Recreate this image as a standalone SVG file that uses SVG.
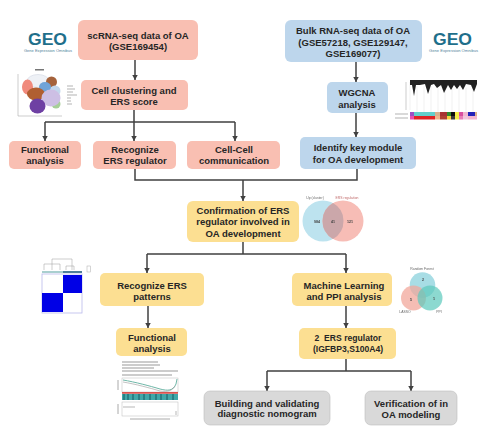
<svg xmlns="http://www.w3.org/2000/svg" width="490" height="437" viewBox="0 0 490 437">
<style>
.t{font-family:"Liberation Sans",Arial,sans-serif;font-weight:700;font-size:9.5px;fill:#262626;text-anchor:middle}
.pink{fill:#F9BFB2}.blue{fill:#BDD6EC}.yellow{fill:#FCDF92}.grey{fill:#D9D9D9;stroke:#BDBDBD;stroke-width:.6}
.c{fill:none;stroke:#404040;stroke-width:1.5}
.geo{font-family:"Liberation Sans",Arial,sans-serif;font-weight:700;font-size:17px;fill:#1F6F8B}
.geos{font-family:"Liberation Sans",Arial,sans-serif;font-size:3.2px;fill:#4F7F9A}
.tiny{font-family:"Liberation Sans",Arial,sans-serif;font-size:3.4px;fill:#666;text-anchor:middle}
.num{font-family:"Liberation Sans",Arial,sans-serif;font-weight:700;font-size:3.6px;fill:#444;text-anchor:middle}
.g{fill:none;stroke:#9A9A9A;stroke-width:.5}
.b{filter:url(#soft)}
</style>
<defs>
<marker id="a" markerUnits="userSpaceOnUse" markerWidth="7" markerHeight="7" refX="5.5" refY="3" orient="auto"><path d="M0 0L5.5 3L0 6Z" fill="#404040"/></marker>
<filter id="soft" x="-10%" y="-10%" width="120%" height="120%"><feGaussianBlur stdDeviation="0.45"/></filter>
</defs>
<rect width="490" height="437" fill="#fff"/>
<g id="connectors">
<path class="c" marker-end="url(#a)" d="M135 60V80"/>
<path class="c" d="M134 110V122M45 122H235"/>
<path class="c" marker-end="url(#a)" d="M45 122V141"/>
<path class="c" marker-end="url(#a)" d="M134 122V141"/>
<path class="c" marker-end="url(#a)" d="M235 122V141"/>
<path class="c" d="M135 169V180H357V169"/>
<path class="c" marker-end="url(#a)" d="M243 180V201"/>
<path class="c" marker-end="url(#a)" d="M356 62V82"/>
<path class="c" marker-end="url(#a)" d="M356 113V137"/>
<path class="c" d="M243 242V254M147 254H346"/>
<path class="c" marker-end="url(#a)" d="M147 254V273"/>
<path class="c" marker-end="url(#a)" d="M346 254V273"/>
<path class="c" marker-end="url(#a)" d="M148 306V328"/>
<path class="c" marker-end="url(#a)" d="M346 306V328"/>
<path class="c" d="M346 359V371M267 371H411"/>
<path class="c" marker-end="url(#a)" d="M267 371V391"/>
<path class="c" marker-end="url(#a)" d="M411 371V391"/>
</g>
<g id="n-scrna"><rect class="pink" x="78" y="20" width="120" height="40" rx="6"/><text class="t" x="138" y="38.500">scRNA-seq data of OA</text><text class="t" x="138" y="49.500">(GSE169454)</text></g>
<g id="n-cluster"><rect class="pink" x="81" y="80" width="107" height="30" rx="5"/><text class="t" x="134" y="93.500">Cell clustering and</text><text class="t" x="134" y="104.500">ERS score</text></g>
<g id="n-func1"><rect class="pink" x="9" y="141" width="72" height="28" rx="5"/><text class="t" x="45" y="153">Functional</text><text class="t" x="45" y="164">analysis</text></g>
<g id="n-regulator"><rect class="pink" x="93" y="141" width="83" height="28" rx="5"/><text class="t" x="135" y="153">Recognize</text><text class="t" x="135" y="164">ERS regulator</text></g>
<g id="n-comm"><rect class="pink" x="187" y="141" width="93" height="28" rx="5"/><text class="t" x="234" y="153">Cell-Cell</text><text class="t" x="234" y="164">communication</text></g>
<g id="n-bulk"><rect class="blue" x="285" y="20" width="137" height="42" rx="6"/><text class="t" x="353" y="33.500">Bulk RNA-seq data of OA</text><text class="t" x="353" y="45.500">(GSE57218, GSE129147,</text><text class="t" x="353" y="56.500">GSE169077)</text></g>
<g id="n-wgcna"><rect class="blue" x="327" y="82" width="61" height="31" rx="5"/><text class="t" x="357" y="96">WGCNA</text><text class="t" x="357" y="107.500">analysis</text></g>
<g id="n-module"><rect class="blue" x="300" y="137" width="116" height="32" rx="5"/><text class="t" x="358" y="150.500">Identify key module</text><text class="t" x="358" y="162.500">for OA development</text></g>
<g id="n-confirm"><rect class="yellow" x="187" y="201" width="112" height="41" rx="6"/><text class="t" x="243" y="213.500">Confirmation of ERS</text><text class="t" x="243" y="225">regulator involved in</text><text class="t" x="243" y="236.500">OA development</text></g>
<g id="n-patterns"><rect class="yellow" x="100" y="273" width="104" height="33" rx="5"/><text class="t" x="152" y="288.500">Recognize ERS</text><text class="t" x="152" y="299.500">patterns</text></g>
<g id="n-ml"><rect class="yellow" x="292" y="273" width="100" height="33" rx="5"/><text class="t" x="344" y="288.500">Machine Learning</text><text class="t" x="344" y="299.500">and PPI analysis</text></g>
<g id="n-func2"><rect class="yellow" x="116" y="328" width="71" height="28" rx="5"/><text class="t" x="152" y="340.500">Functional</text><text class="t" x="152" y="351.500">analysis</text></g>
<g id="n-two"><rect class="yellow" x="299" y="328" width="97" height="31" rx="5"/><text class="t" style="font-size:8.6px" x="348" y="341">2&#160;&#160;ERS regulator</text><text class="t" style="font-size:8.6px" x="348" y="351.500">(IGFBP3,S100A4)</text></g>
<g id="n-nomogram"><rect class="grey" x="204" y="391" width="126" height="34" rx="6"/><text class="t" x="267" y="406.500">Building and validating</text><text class="t" x="267" y="417">diagnostic nomogram</text></g>
<g id="n-model"><rect class="grey" x="365" y="391" width="92" height="34" rx="6"/><text class="t" x="411" y="406.500">Verification of in</text><text class="t" x="411" y="417.500">OA modeling</text></g>

<g id="geo-left"><text class="geo" x="28" y="44.500" textLength="39" lengthAdjust="spacingAndGlyphs">GEO</text><text class="geos" x="24" y="51.500" textLength="48" lengthAdjust="spacingAndGlyphs">Gene Expression Omnibus</text></g>
<g id="geo-right"><text class="geo" x="433" y="44.500" textLength="39" lengthAdjust="spacingAndGlyphs">GEO</text><text class="geos" x="429" y="51.500" textLength="49" lengthAdjust="spacingAndGlyphs">Gene Expression Omnibus</text></g>

<g id="umap" class="b">
<path class="g" d="M18 74V116H62"/>
<ellipse cx="38" cy="81" rx="11" ry="6.500" fill="#eef1f6" stroke="#c8cfdc" stroke-width=".5"/>
<ellipse cx="27.500" cy="87" rx="5.500" ry="7.500" fill="#F08A7C"/>
<ellipse cx="51.500" cy="82" rx="5.500" ry="5.500" fill="#A5623A"/>
<ellipse cx="55" cy="91" rx="5.500" ry="5.500" fill="#C3D7EC"/>
<ellipse cx="45" cy="87" rx="6" ry="5" fill="#6FA4D8"/>
<ellipse cx="36" cy="94" rx="9" ry="6.500" fill="#B05F30"/>
<ellipse cx="56" cy="104" rx="4.500" ry="4.500" fill="#A6CF98"/>
<ellipse cx="51" cy="98" rx="9.500" ry="8.500" fill="#CDBFE4"/>
<ellipse cx="37.500" cy="106" rx="8" ry="7.500" fill="#6E3FA3"/>
<path d="M67 86h6M67 89h8M67 92h6M67 95h10M67 98h4M67 101h4M67 104h5" stroke="#aaa" stroke-width=".9"/>
<rect x="35" y="69" width="9" height="1.500" fill="#777"/>
</g>

<g id="wgcna-plot" class="b">
<path d="M410 82V110M417 86V112M424 86V112M431 86V112M438 86V112M445 86V112M452 88V112M459 88V112M466 88V112M473 88V112" stroke="#e2e2e2" stroke-width=".5"/>
<path d="M410 80H477V84L474 92L471 85L466 84L463 90L460 85L457 89L454 85L451 90L448 85L444 93L441 85L437 88L434 84L431 85L428 94L425 84L420 85L416 85L414 96L412 85L410 85Z" fill="#222"/>
<path class="g" d="M406 82V110"/>
<rect x="410" y="112" width="4" height="4" fill="#9C4FC4"/><rect x="414" y="112" width="21" height="4" fill="#62CFCB"/><rect x="435" y="112" width="5" height="4" fill="#D9B08C"/><rect x="440" y="112" width="7" height="4" fill="#A83232"/><rect x="447" y="112" width="4" height="4" fill="#2E8B2E"/><rect x="451" y="112" width="4" height="4" fill="#111"/><rect x="455" y="112" width="4" height="4" fill="#F5F04A"/><rect x="459" y="112" width="4" height="4" fill="#D94FA0"/><rect x="463" y="112" width="5" height="4" fill="#F2B6D0"/><rect x="468" y="112" width="7" height="4" fill="#2222B8"/><rect x="475" y="112" width="2" height="4" fill="#D9B08C"/>
<rect x="410" y="116" width="4" height="3.500" fill="#E84DB0"/><rect x="414" y="116" width="21" height="3.500" fill="#E02020"/><rect x="435" y="116" width="5" height="3.500" fill="#F0B48C"/><rect x="440" y="116" width="7" height="3.500" fill="#B04030"/><rect x="447" y="116" width="4" height="3.500" fill="#F5D040"/><rect x="451" y="116" width="4" height="3.500" fill="#3A3A3A"/><rect x="455" y="116" width="4" height="3.500" fill="#F5F04A"/><rect x="459" y="116" width="4" height="3.500" fill="#E87FB8"/><rect x="463" y="116" width="5" height="3.500" fill="#F2C6DC"/><rect x="468" y="116" width="9" height="3.500" fill="#F2B6D0"/>
<path d="M395 114h13M395 118h13" stroke="#aaa" stroke-width=".9"/>
</g>

<g id="venn2" class="b">
<circle cx="323" cy="221" r="20.500" fill="#BDE3EF"/>
<circle cx="343" cy="221" r="20.500" fill="#F7BDB6"/>
<path d="M333 203.100A20.500 20.500 0 0 1 333 238.900A20.500 20.500 0 0 1 333 203.100Z" fill="#CBA7AA"/>
<text class="tiny" x="315" y="199">Up (cluster)</text><text class="tiny" x="347" y="199" style="fill:#C06A6A">ERS regulation</text>
<text class="num" x="317" y="222.500">984</text><text class="num" x="333" y="222.500">41</text><text class="num" x="350" y="222.500">121</text>
</g>

<g id="heatmap" class="b">
<path class="g" d="M52 270V259H72V270M44 270V264M60 270V264H44M66 270V266H74M74 270V266"/>
<rect x="42" y="271" width="21" height="2" fill="#A9CFCF"/><rect x="63" y="271" width="19" height="2" fill="#4F7F9A"/>
<rect x="42" y="274" width="40" height="39" fill="#fff" stroke="#B9B9EC" stroke-width=".8"/>
<rect x="63" y="275" width="19" height="18" fill="#0000E6"/>
<rect x="42" y="293" width="21" height="19" fill="#0000E6"/>
<rect x="87" y="266" width="3.500" height="6" fill="#fff" stroke="#aaa" stroke-width=".5"/>
</g>

<g id="venn3" class="b">
<circle cx="422.500" cy="285" r="12.800" fill="#A8DDE5"/>
<circle cx="413.500" cy="298" r="12.500" fill="#F2A79B" fill-opacity=".75"/>
<circle cx="430" cy="298" r="12.500" fill="#5CC9BC" fill-opacity=".7"/>
<text class="tiny" x="422" y="270">Random Forest</text><text class="tiny" x="405" y="313">LASSO</text><text class="tiny" x="439" y="313">PPI</text>
<text class="num" x="423" y="281">2</text><text class="num" x="411" y="301">5</text><text class="num" x="434" y="300">1</text>
</g>

<g id="gsea" class="b">
<path d="M122 362h36M122 365h38M122 368h32M122 371h56M122 375h50" stroke="#999" stroke-width="1"/>
<rect x="122" y="378" width="56" height="14" fill="#fff" stroke="#bbb" stroke-width=".5"/>
<path d="M123 380C135 382 150 386 160 389C168 391 173 391 176 384L177 379" fill="none" stroke="#6FB7A8" stroke-width="1"/>
<path d="M123 382C135 384 150 388 160 391C168 392 172 391 175 386" fill="none" stroke="#999" stroke-width=".6"/>
<rect x="122" y="392" width="56" height="1.800" fill="#D9534F"/>
<rect x="122" y="394" width="56" height="6" fill="#3FA7A8"/>
<path d="M124 394v6M128 394v6M133 394v6M139 394v6M144 394v6M150 394v6M156 394v6M161 394v6M167 394v6M173 394v6" stroke="#14505A" stroke-width=".9"/>
<rect x="122" y="402" width="56" height="14" fill="#fff" stroke="#bbb" stroke-width=".5"/>
<path d="M123 407h12M176 411v4" stroke="#999" stroke-width=".7"/>
<path d="M130 419h40" stroke="#aaa" stroke-width="1"/>
<path d="M118 380v10M118 404v10" stroke="#aaa" stroke-width="1"/>
</g>
</svg>
